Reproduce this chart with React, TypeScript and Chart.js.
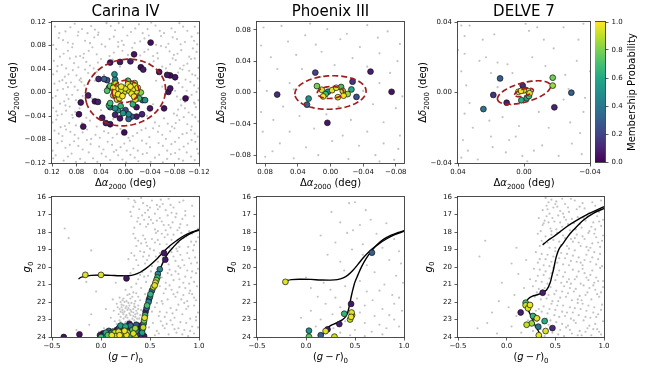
import React, { useEffect, useRef } from 'react';
import { Chart, registerables } from 'chart.js';
Chart.register(...registerables);
Chart.defaults.font.family = '"DejaVu Sans", sans-serif';

// ---------------- DATA ----------------
// Spatial panels: [dRA, dDec] for field stars, [dRA, dDec, membership prob] for members
const CAR_XY_FIELD: number[][] = [
[0.115,0.112],[0.098,0.104],[0.083,0.117],[0.071,0.108],[0.056,0.113],[0.044,0.102],[0.031,0.118],[0.017,0.106],[0.004,0.111],[-0.009,0.103],[-0.022,0.116],[-0.036,0.108],[-0.049,0.114],[-0.063,0.101],[-0.075,0.109],[-0.088,0.118],[-0.101,0.105],[-0.113,0.112],[0.062,0.101],[-0.028,0.101],
[0.109,0.093],[0.094,0.085],[0.078,0.097],[0.066,0.088],[0.051,0.094],[0.039,0.082],[0.026,0.091],[0.012,0.086],[-0.003,0.097],[-0.015,0.084],[-0.031,0.092],[-0.044,0.087],[-0.058,0.096],[-0.07,0.083],[-0.084,0.091],[-0.097,0.086],[-0.108,0.095],[-0.117,0.082],[0.118,0.081],[0.003,0.081],
[0.113,0.074],[0.101,0.066],[0.087,0.077],[0.074,0.062],[0.06,0.071],[0.047,0.065],[0.033,0.078],[0.019,0.068],[-0.011,0.076],[-0.024,0.063],[-0.037,0.073],[-0.052,0.067],[-0.066,0.077],[-0.079,0.064],[-0.091,0.072],[-0.104,0.061],[-0.116,0.069],[0.005,0.071],[0.081,0.061],[-0.058,0.079],
[0.117,0.054],[0.104,0.047],[0.091,0.058],[0.077,0.043],[0.064,0.052],[0.052,0.041],[0.04,0.057],[0.009,0.044],[-0.046,0.053],[-0.06,0.044],[-0.082,0.055],[-0.095,0.046],[-0.107,0.057],[-0.119,0.042],[0.069,0.059],[-0.089,0.041],[0.097,0.041],[-0.073,0.048],
[0.112,0.036],[0.099,0.027],[0.086,0.038],[0.073,0.024],[0.061,0.033],[0.075,0.021],[-0.086,0.034],[-0.098,0.022],[-0.109,0.031],[-0.118,0.024],[0.103,0.021],[-0.093,0.039],[0.066,0.039],[0.047,0.035],
[0.116,0.015],[0.102,0.006],[0.089,0.017],[0.078,0.004],[0.067,0.012],[-0.087,0.016],[-0.1,0.003],[-0.112,0.012],[0.108,0.019],[-0.119,0.007],[0.094,0.009],[-0.093,0.009],
[0.114,-0.006],[0.1,-0.015],[0.087,-0.004],[0.076,-0.018],[-0.084,-0.007],[-0.097,-0.016],[-0.108,-0.004],[-0.119,-0.013],[0.107,-0.019],[0.093,-0.011],[-0.113,-0.019],
[0.118,-0.026],[0.104,-0.037],[0.091,-0.024],[0.082,-0.033],[-0.079,-0.036],[-0.091,-0.022],[-0.103,-0.034],[-0.115,-0.025],[0.097,-0.031],[-0.086,-0.029],[0.111,-0.039],
[0.113,-0.046],[0.099,-0.057],[0.086,-0.043],[0.071,-0.052],[0.058,-0.048],[-0.048,-0.051],[-0.063,-0.044],[-0.076,-0.058],[-0.088,-0.047],[-0.101,-0.054],[-0.114,-0.042],[0.106,-0.059],[-0.069,-0.053],[0.047,-0.058],
[0.116,-0.065],[0.103,-0.074],[0.09,-0.067],[0.077,-0.078],[0.063,-0.063],[0.049,-0.072],[0.035,-0.066],[0.021,-0.077],[0.008,-0.062],[-0.012,-0.074],[-0.026,-0.064],[-0.039,-0.076],[-0.053,-0.067],[-0.066,-0.079],[-0.08,-0.061],[-0.093,-0.071],[-0.107,-0.064],[-0.118,-0.075],[0.056,-0.079],[-0.045,-0.061],
[0.111,-0.086],[0.098,-0.094],[0.084,-0.083],[0.07,-0.097],[0.057,-0.088],[0.043,-0.092],[0.029,-0.084],[0.015,-0.098],[0.002,-0.087],[-0.013,-0.095],[-0.027,-0.082],[-0.04,-0.093],[-0.054,-0.086],[-0.068,-0.099],[-0.081,-0.084],[-0.095,-0.092],[-0.108,-0.081],[-0.117,-0.096],[0.119,-0.099],[-0.002,-0.099],
[0.114,-0.107],[0.101,-0.116],[0.088,-0.104],[0.074,-0.113],[0.06,-0.102],[0.046,-0.118],[0.032,-0.109],[0.019,-0.101],[0.005,-0.114],[-0.008,-0.106],[-0.021,-0.117],[-0.035,-0.103],[-0.048,-0.111],[-0.061,-0.119],[-0.074,-0.105],[-0.087,-0.113],[-0.1,-0.102],[-0.113,-0.115],[0.066,-0.119],[-0.041,-0.118],
[0.05,0.02],[0.035,0.03],[-0.05,0.02],[-0.06,0.01],[0.04,-0.03],[-0.045,-0.02],[0.02,-0.045],[-0.025,0.045],[0.055,-0.01],[-0.035,-0.04],
[0.108,0.101],[0.09,0.111],[0.077,0.103],[0.05,0.107],[0.024,0.113],[0.011,0.118],[-0.016,0.109],[-0.042,0.119],[-0.056,0.105],[-0.081,0.103],[-0.094,0.112],[-0.118,0.101],
[0.102,0.089],[0.086,0.083],[0.058,0.084],[0.045,0.098],[0.019,0.095],[0.006,0.088],[-0.024,0.087],[-0.038,0.097],[-0.05,0.081],[-0.077,0.094],[-0.09,0.082],[-0.112,0.088],
[0.107,0.061],[0.094,0.071],[0.068,0.066],[0.054,0.077],[0.026,0.062],[0.012,0.078],[-0.004,0.064],[-0.031,0.069],[-0.045,0.062],[-0.072,0.07],[-0.085,0.066],[-0.11,0.075],
[0.111,0.045],[0.084,0.05],[0.058,0.046],[0.045,0.051],[0.021,0.056],[-0.039,0.049],[-0.053,0.058],[-0.066,0.041],[-0.077,0.058],[-0.101,0.049],[-0.113,0.058],
[0.118,0.031],[0.093,0.031],[0.08,0.029],[0.055,0.026],[-0.081,0.022],[-0.104,0.037],[-0.114,0.029],
[0.111,0.004],[0.097,0.016],[0.083,0.01],[0.072,0.018],[-0.081,0.003],[-0.106,0.018],[-0.116,0.001],
[0.119,-0.009],[0.096,-0.004],[0.081,-0.013],[0.07,-0.006],[-0.09,-0.012],[-0.103,-0.008],[-0.112,-0.017],
[0.113,-0.032],[0.098,-0.022],[0.087,-0.038],[0.075,-0.027],[-0.084,-0.039],[-0.097,-0.027],[-0.109,-0.038],
[0.119,-0.051],[0.092,-0.052],[0.081,-0.056],[0.064,-0.043],[-0.055,-0.057],[-0.082,-0.052],[-0.095,-0.042],[-0.108,-0.058],[-0.119,-0.049],
[0.109,-0.07],[0.097,-0.063],[0.083,-0.072],[0.07,-0.068],[0.042,-0.077],[0.028,-0.069],[0.014,-0.071],[-0.005,-0.077],[-0.019,-0.069],[-0.033,-0.061],[-0.06,-0.072],[-0.073,-0.066],[-0.087,-0.077],[-0.1,-0.069],[-0.113,-0.07],
[0.104,-0.083],[0.091,-0.089],[0.077,-0.091],[0.063,-0.081],[0.036,-0.097],[0.022,-0.089],[0.008,-0.093],[-0.007,-0.082],[-0.02,-0.099],[-0.034,-0.087],[-0.061,-0.091],[-0.075,-0.088],[-0.088,-0.097],[-0.102,-0.087],[-0.114,-0.084],
[0.118,-0.112],[0.094,-0.109],[0.081,-0.118],[0.053,-0.112],[0.039,-0.104],[0.025,-0.115],[0.012,-0.107],[-0.001,-0.119],[-0.015,-0.111],[-0.028,-0.105],[-0.055,-0.106],[-0.068,-0.113],[-0.081,-0.103],[-0.094,-0.116],[-0.107,-0.109],[-0.119,-0.104]
];
const CAR_XY_MEMBERS: number[][] = [
[-0.041,0.085,0.03],[-0.014,0.065,0.05],[0.025,0.051,0.04],[0.009,0.052,0.06],[-0.008,0.053,0.08],[-0.025,0.043,0.04],[-0.029,0.039,0.07],[-0.055,0.035,0.05],[-0.068,0.03,0.06],[-0.073,0.029,0.03],[-0.081,0.026,0.05],[0.044,0.023,0.1],[-0.073,0.007,0.06],[-0.07,0.001,0.04],[-0.098,-0.01,0.03],[0.073,-0.017,0.05],[0.061,-0.005,0.07],[0.05,-0.015,0.04],[0.045,-0.016,0.08],[0.076,-0.037,0.03],[0.069,-0.058,0.05],[0.038,-0.043,0.06],[0.025,-0.054,0.04],[0.017,-0.038,0.09],[0.009,-0.044,0.05],[0.002,-0.068,0.03],[-0.018,-0.041,0.07],[-0.018,-0.025,0.05],[-0.04,-0.027,0.06],[-0.063,-0.027,0.04],[0.032,-0.052,0.08],[-0.027,-0.037,0.1],
[0.035,0.023,0.3],[0.03,0.021,0.25],[-0.01,-0.041,0.28],[-0.028,-0.013,0.3],[0.0,-0.03,0.22],[-0.005,-0.045,0.32],
[0.018,0.031,0.5],[0.017,0.022,0.45],[-0.032,-0.013,0.5],[0.025,-0.025,0.45],[0.017,-0.027,0.5],[0.012,-0.03,0.48],[0.004,-0.035,0.52],[-0.005,-0.037,0.45],[0.027,0.008,0.55],
[0.025,-0.018,0.68],[0.027,-0.022,0.62],[0.03,0.003,0.72],[0.025,0.011,0.75],[-0.004,0.02,0.7],[-0.022,-0.01,0.7],[-0.012,-0.02,0.65],[0.008,-0.023,0.66],
[0.018,0.015,0.85],[-0.015,0.016,0.85],[0.02,-0.005,0.88],[-0.025,0.0,0.82],
[0.015,0.006,0.97],[0.012,-0.003,0.99],[0.008,0.003,0.95],[0.018,0.0,0.98],[0.01,-0.01,0.96],[0.005,-0.006,0.99],[0.014,-0.012,0.93],[0.02,0.008,0.97],[0.007,0.01,0.98],[0.003,0.0,0.94],[-0.008,0.01,0.99],[-0.012,0.005,0.97],[-0.015,0.012,0.96],[-0.01,-0.002,0.98],[-0.018,0.002,0.95],[-0.014,-0.007,0.99],[-0.006,0.003,0.93],[-0.02,0.008,0.97],[-0.004,0.014,0.96],[-0.016,-0.012,0.94],[0.0,0.007,0.95],[0.016,0.015,0.92]
];
const PHX_XY_FIELD: number[][] = [
[0.082,0.083],[0.06,0.085],[0.031,0.073],[0.004,0.081],[-0.02,0.075],[-0.045,0.086],[-0.07,0.078],[-0.085,0.062],[0.085,0.06],[0.052,0.065],[0.018,0.061],[-0.012,0.068],[-0.036,0.058],[-0.058,0.07],[0.073,0.045],[0.042,0.048],[0.011,0.052],[-0.027,0.044],[-0.06,0.05],[-0.082,0.04],[0.065,0.03],[0.035,0.03],[-0.005,0.035],[-0.045,0.033],[-0.073,0.025],[0.087,0.015],[0.078,0.002],[0.05,0.012],[-0.06,0.012],[-0.088,-0.005],[0.085,-0.025],[0.058,-0.018],[-0.052,-0.015],[-0.08,-0.02],[0.07,-0.035],[0.038,-0.03],[0.005,-0.028],[-0.025,-0.035],[-0.065,-0.038],[0.083,-0.05],[0.05,-0.05],[0.02,-0.046],[-0.015,-0.055],[-0.045,-0.05],[-0.085,-0.055],[0.062,-0.065],[0.03,-0.07],[-0.002,-0.062],[-0.035,-0.068],[-0.065,-0.065],[0.08,-0.082],[0.045,-0.084],[0.015,-0.08],[-0.022,-0.085],[-0.055,-0.08],[-0.078,-0.086],[0.071,-0.075],[-0.083,-0.072],[0.025,0.088],[-0.06,-0.088],[0.012,0.02],[-0.03,0.015],[0.028,-0.012],[-0.01,-0.018],[0.045,0.004],[-0.04,0.002]
];
const PHX_XY_MEMBERS: number[][] = [
[0.0186,0.0254,0.2],[-0.049,0.0267,0.08],[-0.0748,0.0009,0.05],[0.0653,-0.0026,0.12],[0.0038,-0.0387,0.06],[-0.027,0.0138,0.15],[-0.0318,-0.0056,0.25],[-0.0256,0.0039,0.6],[0.0268,-0.0077,0.5],[0.0288,-0.0155,0.3],[0.0166,0.0082,0.8],[0.0108,0.0035,0.95],[0.006,-0.002,0.7],[0.003,0.001,0.5],[-0.002,0.003,0.95],[-0.007,0.006,0.95],[-0.013,0.007,0.7],[-0.015,0.002,0.9],[-0.009,-0.006,0.95],[-0.016,-0.004,0.98],[-0.021,-0.002,0.85],[0.009,-0.005,0.99]
];
const DEL_XY_FIELD: number[][] = [
[0.038,0.038],[0.033,0.038],[-0.001,0.039],[-0.003,0.035],[-0.008,0.037],[-0.036,0.039],[-0.024,0.037],[0.036,0.032],[0.018,0.033],[-0.012,0.03],[-0.033,0.03],[0.036,0.022],[0.027,0.018],[0.023,0.02],[0.016,0.017],[0.01,0.016],[-0.013,0.015],[-0.032,0.018],[0.038,0.012],[0.02,0.011],[0.007,0.011],[-0.005,0.02],[-0.025,0.01],[0.035,0.004],[0.016,0.003],[-0.027,0.002],[-0.037,-0.003],[0.033,-0.006],[0.008,-0.007],[-0.024,-0.004],[0.036,-0.012],[0.013,-0.014],[-0.009,-0.011],[-0.015,-0.02],[-0.036,-0.011],[0.031,-0.02],[0.021,-0.016],[0.003,-0.019],[-0.028,-0.017],[0.037,-0.027],[0.02,-0.025],[0.005,-0.025],[-0.011,-0.03],[-0.029,-0.029],[0.034,-0.033],[0.019,-0.031],[0.011,-0.034],[0.001,-0.036],[-0.006,-0.033],[-0.021,-0.036],[-0.035,-0.035],[0.038,-0.037],[0.028,-0.038],[-0.002,-0.039],[0.009,-0.027],[-0.034,-0.023],[0.025,0.03],[-0.018,0.025],[0.04,0.024],[-0.04,0.012]
];
const DEL_XY_MEMBERS: number[][] = [
[0.0145,0.008,0.3],[0.0186,-0.0014,0.15],[0.0246,-0.0094,0.38],[0.0105,-0.0058,0.08],[0.0008,0.004,0.12],[-0.0174,0.0084,0.78],[-0.0174,0.0039,0.85],[-0.0287,-0.0001,0.3],[-0.0184,-0.0084,0.1],[0.0016,-0.0044,0.62],[-0.0016,-0.0033,0.55],[-0.003,-0.002,0.7],[0.0034,0.0004,0.97],[0.0018,0.0009,0.99],[0.0002,0.0012,0.95],[-0.001,0.0015,0.5],[-0.0034,-0.0004,0.95],[-0.0025,0.0008,0.9]
];

// CMD panels: [(g-r)0, g0] field, [(g-r)0, g0, prob] members
const CAR_CMD_FIELD: number[][] = [
[0.28,16.1],[0.35,16.3],[0.41,16.05],[0.47,16.5],[0.52,16.2],[0.58,16.7],[0.63,16.4],[0.69,16.1],[0.74,16.6],[0.8,16.3],[0.86,16.8],[0.39,16.7],[0.45,16.9],[0.55,16.95],[0.61,16.15],[0.66,16.75],[0.33,16.55],[0.5,16.6],[0.72,16.9],[0.43,16.35],[0.57,16.45],[0.3,16.85],[0.84,16.2],[0.77,16.95],[0.93,16.5],
[0.31,17.1],[0.37,17.4],[0.42,17.05],[0.46,17.7],[0.51,17.3],[0.55,17.85],[0.6,17.2],[0.64,17.6],[0.68,17.05],[0.73,17.45],[0.78,17.9],[0.83,17.25],[0.88,17.6],[0.95,17.1],[0.99,17.8],[0.34,17.75],[0.4,17.55],[0.49,17.15],[0.53,17.5],[0.58,17.95],[0.62,17.4],[0.71,17.75],[0.76,17.15],[0.81,17.55],[0.9,17.95],[0.44,17.3],[0.66,17.9],[0.86,17.05],[-0.37,17.8],[-0.33,18.35],
[0.33,18.1],[0.38,18.5],[0.43,18.2],[0.47,18.8],[0.52,18.4],[0.56,18.05],[0.6,18.7],[0.65,18.3],[0.7,18.9],[0.74,18.15],[0.79,18.6],[0.84,18.35],[0.89,18.85],[0.93,18.1],[0.97,18.55],[0.36,18.8],[0.41,18.65],[0.5,18.95],[0.55,18.6],[0.62,18.1],[0.72,18.45],[0.77,18.95],[0.87,18.25],[0.95,18.75],[0.45,18.4],[0.67,18.7],[0.82,18.05],[0.99,18.3],
[0.31,19.2],[0.36,19.6],[0.4,19.1],[0.45,19.8],[0.49,19.35],[0.54,19.05],[0.58,19.7],[0.63,19.45],[0.72,19.15],[0.76,19.65],[0.81,19.3],[0.85,19.9],[0.9,19.5],[0.94,19.05],[0.98,19.75],[0.38,19.9],[0.43,19.4],[0.52,19.95],[0.6,19.2],[0.69,19.85],[0.74,19.4],[0.79,19.95],[0.88,19.2],[0.96,19.45],[0.28,19.55],[0.47,19.6],[0.83,19.6],[-0.1,19.05],
[0.33,20.1],[0.38,20.7],[0.42,20.3],[0.46,20.85],[0.51,20.25],[0.62,20.6],[0.7,20.15],[0.74,20.75],[0.79,20.4],[0.84,20.9],[0.88,20.2],[0.92,20.6],[0.97,20.35],[0.36,20.95],[0.44,20.55],[0.66,20.9],[0.72,20.45],[0.81,20.05],[0.86,20.55],[0.95,20.85],[0.99,20.1],[0.3,20.35],[0.15,20.9],[0.76,20.25],[0.9,20.95],[0.68,20.35],[-0.15,20.85],
[0.22,21.9],[0.27,21.6],[0.3,21.8],[0.33,21.45],[0.35,21.95],[0.38,21.7],[0.41,21.2],[0.45,21.55],[0.6,21.1],[0.64,21.5],[0.68,21.85],[0.72,21.3],[0.76,21.7],[0.8,21.15],[0.84,21.6],[0.88,21.95],[0.91,21.35],[0.95,21.75],[0.98,21.1],[0.25,21.3],[0.19,21.75],[0.62,21.95],[0.7,21.05],[0.78,21.45],[0.86,21.2],[0.93,21.55],[0.31,21.15],[0.12,21.85],[-0.05,21.4],[0.4,21.9],[0.24,22.0],[0.97,21.9],
[0.16,22.1],[0.19,22.4],[0.21,22.15],[0.23,22.7],[0.25,22.35],[0.27,22.9],[0.29,22.2],[0.31,22.55],[0.33,22.8],[0.35,22.3],[0.37,22.65],[0.39,22.95],[0.41,22.45],[0.2,22.85],[0.24,22.55],[0.28,22.05],[0.3,22.75],[0.34,22.1],[0.36,22.5],[0.22,22.6],[0.26,22.25],[0.32,22.95],[0.18,22.7],[0.38,22.2],[0.27,22.45],[0.29,22.65],[0.33,22.4],[0.23,22.95],[0.21,22.3],[0.35,22.85],[0.13,22.5],[0.1,22.9],[0.55,22.3],[0.59,22.8],[0.63,22.1],[0.67,22.6],[0.71,22.35],[0.75,22.9],[0.79,22.15],[0.83,22.7],[0.87,22.4],[0.91,22.95],[0.95,22.2],[0.99,22.6],[0.05,22.4],[-0.1,22.7],[0.46,22.1],[0.6,22.55],[0.73,22.65],[0.85,22.05],
[0.14,23.1],[0.17,23.4],[0.2,23.15],[0.23,23.6],[0.26,23.3],[0.29,23.05],[0.32,23.5],[0.35,23.2],[0.38,23.7],[0.4,23.35],[0.18,23.75],[0.24,23.9],[0.31,23.85],[0.37,23.95],[0.12,23.55],[0.08,23.8],[0.03,23.5],[-0.02,23.7],[-0.12,23.3],[-0.25,23.6],[0.53,23.2],[0.57,23.65],[0.61,23.1],[0.65,23.5],[0.69,23.85],[0.73,23.3],[0.77,23.75],[0.81,23.15],[0.85,23.6],[0.89,23.95],[0.93,23.4],[0.97,23.05],[0.55,23.9],[0.63,23.35],[0.71,23.05],[0.79,23.5],[0.87,23.2],[0.95,23.8],[0.27,23.1],[0.33,23.65],
[0.2,22.0],[0.23,21.8],[0.26,21.95],[0.29,21.55],[0.32,21.7],[0.36,21.5],[0.17,22.3],[0.2,22.55],[0.23,22.2],[0.26,22.75],[0.28,22.35],[0.31,22.05],[0.33,22.6],[0.35,22.7],[0.38,22.4],[0.4,22.75],[0.22,22.45],[0.25,22.85],[0.3,22.45],[0.34,22.25],[0.37,22.95],[0.19,23.05],[0.22,23.25],[0.25,23.15],[0.28,23.4],[0.31,23.2],[0.34,23.05],[0.37,23.35],[0.16,23.25],
[0.34,16.2],[0.48,16.75],[0.6,16.55],[0.71,16.45],[0.38,17.2],[0.48,17.55],[0.57,17.35],[0.69,17.6],[0.8,17.75],[0.35,18.35],[0.46,18.6],[0.58,18.45],[0.68,18.15],[0.8,18.85],[0.92,18.55],[0.34,19.35],[0.44,19.15],[0.56,19.4],[0.66,19.6],[0.78,19.1],[0.92,19.8],[0.4,20.45],[0.48,20.5],[0.58,20.9],[0.8,20.7],[0.93,20.25],[0.5,21.25],[0.66,21.25],[0.74,21.55],[0.82,21.85],[0.9,21.5],[0.52,22.55],[0.57,22.05],[0.65,22.85],[0.77,22.45],[0.89,22.25],[0.97,22.85],[0.49,23.45],[0.59,23.8],[0.67,23.25],[0.75,23.55],[0.83,23.85],[0.91,23.65],[0.99,23.45]
];
const CAR_CMD_MEMBERS: number[][] = [
[-0.16,20.45,0.95],[0.0,20.45,0.95],[0.26,20.65,0.05],[0.643,19.2,0.05],[0.656,19.58,0.06],[0.6,20.13,0.45],[0.58,20.4,0.45],[0.575,20.6,0.65],[0.565,20.75,0.8],[0.555,20.9,0.95],[0.548,21.05,0.95],[0.535,21.15,0.9],[0.52,21.35,0.3],[0.505,21.55,0.65],[0.5,21.7,0.4],[0.49,21.85,0.2],[0.485,22.0,0.45],[0.47,22.2,0.7],[0.465,22.35,0.25],[0.455,22.55,0.08],[0.45,22.75,0.65],[0.445,22.9,0.95],[0.44,23.05,0.8],[0.435,23.2,0.5],[0.43,23.3,0.05],[0.43,23.45,0.9],[0.42,23.6,0.3],
[0.41,23.35,0.1],[0.38,23.4,0.06],[0.36,23.3,0.25],[0.33,23.45,0.05],[0.3,23.35,0.4],[0.28,23.5,0.08],[0.25,23.4,0.6],[0.22,23.55,0.05],[0.19,23.45,0.35],[0.16,23.6,0.05],[0.12,23.7,0.45],[0.08,23.65,0.3],[0.05,23.75,0.6],[0.02,23.8,0.08],[0.14,23.75,0.9],[0.18,23.7,0.95],[0.21,23.8,0.85],[0.24,23.65,0.97],[0.27,23.75,0.9],[0.3,23.7,0.1],[0.33,23.8,0.95],[0.36,23.65,0.5],[0.39,23.75,0.04],[0.4,23.9,0.1],[0.44,23.95,0.06],[0.11,23.9,0.97],[0.15,23.95,0.92],[0.19,23.9,0.99],[0.23,23.95,0.7],[0.26,23.88,0.96],[0.29,23.95,0.65],[0.32,23.92,0.05],[0.35,23.98,0.9],[0.37,23.85,0.15],[0.07,23.9,0.75],[0.03,23.95,0.55],[-0.01,23.9,0.08],[0.0,24.0,0.7],[-0.22,23.85,0.04],[-0.38,24.0,0.05],[0.26,23.55,0.15],[0.32,23.6,0.7],[0.18,23.52,0.2],[0.1,23.8,0.5],[0.42,23.75,0.55],[0.29,23.25,0.08],[0.35,23.5,0.85],[0.2,23.35,0.55]
];
const PHX_CMD_FIELD: number[][] = [
[0.44,16.35],[0.5,16.3],[0.61,16.75],[0.26,16.85],[0.66,17.3],[0.35,17.45],[0.55,17.6],[0.82,17.5],[0.15,18.2],[0.42,18.05],[0.72,18.1],[0.9,18.4],[0.3,18.6],[0.58,18.7],[0.78,18.9],[0.47,19.0],[0.95,19.1],[0.22,19.3],[0.35,19.7],[0.62,19.9],[0.85,19.6],[0.97,19.8],[0.39,20.2],[0.7,20.3],[0.92,20.5],[0.0,20.6],[0.18,20.9],[0.55,20.8],[0.8,21.0],[0.99,20.9],[0.05,21.2],[0.25,21.3],[0.4,21.1],[0.62,21.4],[0.75,21.35],[0.88,21.6],[0.12,21.7],[0.3,21.75],[0.52,21.8],[0.68,21.9],[0.95,21.75],[0.2,22.1],[0.35,22.3],[0.6,22.2],[0.78,22.4],[0.9,22.1],[0.05,22.5],[0.27,22.7],[0.55,22.6],[0.7,22.8],[0.85,22.75],[0.98,22.5],[-0.05,22.9],[0.15,23.0],[0.4,23.1],[0.6,23.2],[0.75,23.3],[0.9,23.0],[0.1,23.4],[0.28,23.5],[0.5,23.6],[0.67,23.7],[0.82,23.5],[0.95,23.4],[0.2,23.8],[0.45,23.9],[0.6,23.95],[0.78,23.85],[0.35,23.75],[0.58,19.3],[0.48,17.9]
];
const PHX_CMD_MEMBERS: number[][] = [
[-0.21,20.85,0.95],[0.673,19.18,0.3],[0.46,22.11,0.06],[0.39,22.67,0.65],[0.465,22.6,0.95],[0.47,22.75,0.92],[0.46,22.85,0.97],[0.45,23.0,0.9],[0.34,23.26,0.08],[0.22,23.56,0.05],[0.2,23.66,0.95],[0.03,23.64,0.5],[0.15,23.9,0.3],[0.03,23.98,0.75],[0.29,23.98,0.92]
];
const DEL_CMD_FIELD: number[][] = [
[0.4,16.05],[0.43,16.3],[0.46,16.15],[0.48,16.6],[0.51,16.25],[0.55,16.8],[0.6,16.4],[0.66,16.1],[0.72,16.7],[0.78,16.35],[0.85,16.9],[0.91,16.5],[0.97,16.2],[0.37,16.75],[0.44,16.95],[0.52,16.55],[0.58,16.95],[0.7,16.2],[0.8,16.65],[0.95,16.85],[0.41,16.5],[0.63,16.6],
[0.33,17.2],[0.37,17.6],[0.41,17.1],[0.45,17.8],[0.49,17.4],[0.53,17.05],[0.57,17.7],[0.61,17.3],[0.65,17.9],[0.69,17.5],[0.73,17.15],[0.77,17.75],[0.81,17.35],[0.85,17.95],[0.89,17.45],[0.93,17.1],[0.97,17.65],[0.35,17.95],[0.43,17.45],[0.51,17.85],[0.59,17.15],[0.67,17.25],[0.75,17.55],[0.83,17.1],[0.91,17.85],[0.99,17.3],[0.39,17.35],[0.47,17.2],
[0.32,18.1],[0.36,18.5],[0.4,18.25],[0.44,18.9],[0.48,18.45],[0.52,18.05],[0.56,18.75],[0.6,18.35],[0.64,18.95],[0.68,18.55],[0.72,18.15],[0.76,18.8],[0.8,18.4],[0.84,18.05],[0.88,18.65],[0.92,18.3],[0.96,18.85],[0.99,18.2],[0.34,18.8],[0.42,18.6],[0.5,18.9],[0.58,18.2],[0.66,18.4],[0.74,18.6],[0.82,18.85],[0.9,18.1],[0.98,18.5],[-0.22,18.5],[0.1,18.9],
[0.3,19.15],[0.34,19.55],[0.38,19.9],[0.42,19.3],[0.46,19.7],[0.5,19.1],[0.54,19.5],[0.58,19.85],[0.62,19.25],[0.66,19.65],[0.7,19.05],[0.74,19.45],[0.78,19.9],[0.82,19.3],[0.86,19.7],[0.9,19.15],[0.94,19.55],[0.98,19.95],[0.36,19.25],[0.44,19.95],[0.52,19.75],[0.6,19.5],[0.68,19.35],[0.76,19.75],[0.84,19.05],[0.92,19.85],[-0.28,19.4],[0.05,19.8],[0.2,19.6],
[0.28,20.1],[0.32,20.5],[0.36,20.85],[0.4,20.25],[0.44,20.65],[0.48,20.05],[0.52,20.45],[0.56,20.9],[0.6,20.3],[0.64,20.7],[0.68,20.15],[0.72,20.55],[0.76,20.95],[0.8,20.35],[0.84,20.75],[0.88,20.2],[0.92,20.6],[0.96,20.05],[0.99,20.8],[0.34,20.15],[0.42,20.95],[0.5,20.75],[0.58,20.55],[0.66,20.95],[0.74,20.25],[0.82,20.6],[0.9,20.9],[0.12,20.4],[0.24,20.7],[-0.05,20.9],
[0.27,21.1],[0.31,21.45],[0.35,21.85],[0.39,21.2],[0.43,21.6],[0.47,21.95],[0.51,21.35],[0.55,21.75],[0.59,21.1],[0.63,21.5],[0.67,21.9],[0.71,21.25],[0.75,21.65],[0.79,21.05],[0.83,21.45],[0.87,21.85],[0.91,21.3],[0.95,21.7],[0.99,21.15],[0.29,21.7],[0.37,21.35],[0.45,21.15],[0.53,21.95],[0.61,21.7],[0.69,21.4],[0.77,21.9],[0.85,21.2],[0.93,21.55],[0.08,21.6],[0.18,21.2],[-0.08,21.95],
[0.26,22.15],[0.3,22.5],[0.34,22.9],[0.38,22.25],[0.42,22.65],[0.46,22.1],[0.5,22.45],[0.54,22.85],[0.58,22.2],[0.62,22.6],[0.66,22.95],[0.7,22.35],[0.74,22.75],[0.78,22.1],[0.82,22.5],[0.86,22.9],[0.9,22.3],[0.94,22.7],[0.98,22.15],[0.33,22.4],[0.41,22.95],[0.49,22.75],[0.57,22.55],[0.65,22.3],[0.73,22.05],[0.81,22.85],[0.89,22.6],[0.97,22.45],[0.1,22.8],[0.02,22.3],[-0.15,22.6],
[0.22,23.05],[0.27,23.65],[0.31,23.1],[0.35,23.55],[0.39,23.95],[0.43,23.3],[0.47,23.75],[0.51,23.15],[0.55,23.6],[0.59,23.95],[0.63,23.35],[0.67,23.8],[0.71,23.2],[0.75,23.65],[0.79,23.05],[0.83,23.5],[0.87,23.9],[0.91,23.25],[0.95,23.7],[0.99,23.1],[0.45,23.05],[0.53,23.85],[0.61,23.45],[0.69,23.05],[0.77,23.9],[0.85,23.35],[0.93,23.55],[0.05,23.4],[-0.1,23.8],[-0.3,23.5],[0.15,23.75],[-0.2,23.2],
[0.42,16.7],[0.5,16.4],[0.57,16.1],[0.64,16.85],[0.75,16.55],[0.88,16.3],[0.38,17.5],[0.46,17.95],[0.55,17.45],[0.63,17.55],[0.71,17.85],[0.79,17.2],[0.87,17.7],[0.95,17.4],[0.38,18.65],[0.46,18.15],[0.54,18.55],[0.62,18.8],[0.7,18.35],[0.78,18.25],[0.86,18.9],[0.94,18.6],[0.32,19.75],[0.4,19.55],[0.48,19.4],[0.56,19.2],[0.64,19.9],[0.72,19.7],[0.8,19.6],[0.88,19.45],[0.96,19.25],[0.3,20.8],[0.38,20.45],[0.46,20.35],[0.54,20.2],[0.62,20.85],[0.7,20.7],[0.78,20.1],[0.86,20.45],[0.94,20.8],[0.33,21.25],[0.41,21.8],[0.49,21.55],[0.57,21.4],[0.65,21.2],[0.73,21.85],[0.81,21.6],[0.89,21.05],[0.97,21.45],[0.28,22.75],[0.36,22.55],[0.44,22.4],[0.52,22.2],[0.6,22.8],[0.68,22.6],[0.76,22.4],[0.84,22.2],[0.92,22.85],[0.29,23.4],[0.37,23.2],[0.41,23.6],[0.49,23.4],[0.57,23.25],[0.65,23.6],[0.73,23.9],[0.81,23.7],[0.89,23.55],[0.97,23.85]
];
const DEL_CMD_MEMBERS: number[][] = [
[0.37,21.47,0.08],[0.195,22.04,0.7],[0.195,22.19,0.92],[0.22,22.36,0.95],[0.24,22.17,0.97],[0.144,22.6,0.08],[0.27,22.8,0.65],[0.28,22.85,0.45],[0.31,22.93,0.95],[0.39,23.09,0.62],[0.205,23.3,0.9],[0.257,23.22,0.85],[0.325,23.41,0.4],[0.47,23.49,0.12],[0.4,23.66,0.95],[0.33,23.9,0.97]
];

// Isochrone tracks [(g-r)0, g0]
const CAR_ISO_RGB: number[][] = [[0.41,24.0],[0.425,23.5],[0.44,23.0],[0.46,22.5],[0.48,22.0],[0.505,21.5],[0.53,21.05],[0.565,20.6],[0.6,20.15],[0.64,19.65],[0.68,19.25],[0.74,18.85],[0.8,18.5],[0.87,18.22],[0.94,18.02],[1.0,17.9]];
const CAR_ISO_HB: number[][] = [[-0.23,20.68],[-0.2,20.58],[-0.1,20.48],[0.0,20.46],[0.1,20.48],[0.2,20.5],[0.28,20.5],[0.34,20.44],[0.4,20.3],[0.46,20.08],[0.52,19.8],[0.58,19.48],[0.64,19.12],[0.7,18.8],[0.77,18.5],[0.85,18.2],[0.93,18.0],[1.0,17.86]];
const PHX_ISO_RGB: number[][] = [[0.16,24.0],[0.2,23.55],[0.25,23.35],[0.31,23.2],[0.37,23.02],[0.41,22.8],[0.435,22.4],[0.45,22.0],[0.465,21.6],[0.48,21.25],[0.5,20.85],[0.53,20.45],[0.57,19.95],[0.61,19.55],[0.66,19.15],[0.72,18.75],[0.79,18.42],[0.87,18.18],[0.94,18.03],[1.0,17.93]];
const PHX_ISO_HB: number[][] = [[-0.22,20.82],[-0.15,20.72],[-0.05,20.7],[0.05,20.71],[0.15,20.74],[0.25,20.75],[0.32,20.72],[0.38,20.62],[0.43,20.45],[0.48,20.18],[0.53,19.85],[0.58,19.5],[0.63,19.2],[0.68,18.95],[0.75,18.65],[0.82,18.4],[0.9,18.17],[1.0,17.96]];
const DEL_ISO_RGB: number[][] = [[0.36,24.0],[0.32,23.6],[0.28,23.2],[0.25,22.8],[0.22,22.45],[0.2,22.2],[0.2,22.0],[0.225,21.8],[0.26,21.68],[0.34,21.54],[0.41,21.31],[0.445,20.93],[0.465,20.5],[0.48,20.17],[0.51,19.41],[0.54,18.95],[0.58,18.65],[0.63,18.25],[0.685,17.89],[0.79,17.31],[0.89,16.93],[1.0,16.65]];
const DEL_ISO_AGB: number[][] = [[0.37,18.74],[0.42,18.5],[0.48,18.27],[0.55,17.98],[0.616,17.7],[0.685,17.45],[0.753,17.22],[0.82,17.02],[0.89,16.84],[1.0,16.55]];

// Half-light ellipses: centre, semi-axes (deg), angle (deg, data frame)
const CAR_ELLIPSES = [
  { cx: 0.0, cy: 0.0, a: 0.066, b: 0.056, ang: -15 },
  { cx: 0.0, cy: 0.002, a: 0.022, b: 0.0187, ang: -15 },
];
const PHX_ELLIPSES = [
  { cx: 0.0, cy: 0.0, a: 0.0436, b: 0.0213, ang: -3 },
  { cx: 0.0, cy: 0.0, a: 0.0162, b: 0.0076, ang: -3 },
];
const DEL_ELLIPSES = [
  { cx: 0.0, cy: 0.0, a: 0.0165, b: 0.0055, ang: -14 },
  { cx: 0.0, cy: 0.0, a: 0.0058, b: 0.002, ang: -14 },
];

const TICKS_CAR = [-0.12, -0.08, -0.04, 0, 0.04, 0.08, 0.12];
const TICKS_PHX = [-0.08, -0.04, 0, 0.04, 0.08];
const TICKS_DEL = [-0.04, 0, 0.04];
const TICKS_COLOR = [-0.5, 0, 0.5, 1.0];
const TICKS_MAG = [16, 17, 18, 19, 20, 21, 22, 23, 24];
const TICKS_CBAR = [0, 0.2, 0.4, 0.6, 0.8, 1.0];

const VIRIDIS = ['#440154', '#482475', '#414487', '#355f8d', '#2a788e', '#21918c', '#22a884', '#44bf70', '#7ad151', '#bddf26', '#fde725'];

// ---------------- HELPERS ----------------
function hexToRgb(h: string) {
  return [parseInt(h.slice(1, 3), 16), parseInt(h.slice(3, 5), 16), parseInt(h.slice(5, 7), 16)];
}
function viridis(p: number) {
  const t = Math.min(1, Math.max(0, p)) * 10;
  const i = Math.min(9, Math.floor(t));
  const f = t - i;
  const a = hexToRgb(VIRIDIS[i]);
  const b = hexToRgb(VIRIDIS[i + 1]);
  const c = a.map((v, k) => Math.round(v + (b[k] - v) * f));
  return `rgb(${c[0]},${c[1]},${c[2]})`;
}
const minus = (s: string) => s.replace('-', '\u2212');
const fmt2 = (v: number) => (Math.abs(v) < 1e-9 ? '0.00' : minus(v.toFixed(2)));
const fmt1 = (v: number) => (Math.abs(v) < 1e-9 ? '0.0' : minus(v.toFixed(1)));
const fmt0 = (v: number) => String(Math.round(v));

type Seg = { t: string; it?: boolean; sub?: boolean };
const LBL_RA: Seg[] = [{ t: '\u0394' }, { t: '\u03b1', it: true }, { t: '2000', sub: true }, { t: ' (deg)' }];
const LBL_DEC: Seg[] = [{ t: '\u0394' }, { t: '\u03b4', it: true }, { t: '2000', sub: true }, { t: ' (deg)' }];
const LBL_COLOR: Seg[] = [{ t: '(' }, { t: 'g', it: true }, { t: '\u2009\u2212\u2009' }, { t: 'r', it: true }, { t: ')' }, { t: '0', sub: true }];
const LBL_MAG: Seg[] = [{ t: 'g', it: true }, { t: '0', sub: true }];

function drawRich(ctx: CanvasRenderingContext2D, segs: Seg[], cx: number, cy: number, size: number, vertical: boolean) {
  ctx.save();
  ctx.translate(cx, cy);
  if (vertical) ctx.rotate(-Math.PI / 2);
  const fam = '"DejaVu Sans", sans-serif';
  const fontOf = (s: Seg) => `${s.it ? 'italic ' : ''}${s.sub ? size * 0.7 : size}px ${fam}`;
  let w = 0;
  const ws = segs.map((s) => {
    ctx.font = fontOf(s);
    const m = ctx.measureText(s.t).width;
    w += m;
    return m;
  });
  let x = -w / 2;
  ctx.fillStyle = '#000';
  ctx.textAlign = 'left';
  ctx.textBaseline = 'alphabetic';
  segs.forEach((s, i) => {
    ctx.font = fontOf(s);
    ctx.fillText(s.t, x, s.sub ? size * 0.25 : 0);
    x += ws[i];
  });
  ctx.restore();
}

function ellipsePts(e: { cx: number; cy: number; a: number; b: number; ang: number }) {
  const pts: { x: number; y: number }[] = [];
  const phi = (e.ang * Math.PI) / 180;
  for (let k = 0; k <= 120; k++) {
    const t = (k / 120) * 2 * Math.PI;
    const u = e.a * Math.cos(t);
    const v = e.b * Math.sin(t);
    pts.push({ x: e.cx + u * Math.cos(phi) - v * Math.sin(phi), y: e.cy + u * Math.sin(phi) + v * Math.cos(phi) });
  }
  return pts;
}

const fieldDs = (pts: number[][]) => ({
  data: pts.map(([x, y]) => ({ x, y })),
  pointRadius: 1.1,
  pointBackgroundColor: '#c3c3c3',
  backgroundColor: '#c3c3c3',
  pointBorderWidth: 0,
  borderWidth: 0,
  showLine: false,
  order: 4,
  clip: 0,
});
const memberDs = (pts: number[][]) => {
  const s = [...pts].sort((a, b) => a[2] - b[2]);
  return {
    data: s.map(([x, y]) => ({ x, y })),
    pointRadius: 2.9,
    pointBackgroundColor: s.map((p) => viridis(p[2])),
    pointBorderColor: '#111',
    pointBorderWidth: 0.7,
    showLine: false,
    order: 2,
    clip: 0,
  };
};
const curveDs = (pts: number[][]) => ({
  data: pts.map(([x, y]) => ({ x, y })),
  showLine: true,
  pointRadius: 0,
  borderColor: '#000',
  borderWidth: 1.4,
  tension: 0.35,
  fill: false,
  order: 3,
  clip: 0,
});
const ellipseDs = (e: any) => ({
  data: ellipsePts(e),
  showLine: true,
  pointRadius: 0,
  borderColor: '#a11e1e',
  borderWidth: 1.7,
  borderDash: [6, 3],
  tension: 0,
  fill: false,
  order: 1,
  clip: 0,
});

interface AxisCfg { min: number; max: number; reverse: boolean; ticks: number[]; fmt: (v: number) => string }
interface PanelCfg {
  key: string;
  plot: { x: number; y: number; w: number; h: number };
  T: number; B: number; L: number; R: number;
  title?: string;
  x: AxisCfg; y: AxisCfg;
  xLabel: Seg[]; yLabel: Seg[]; yLabelDist: number;
  datasets: any[];
}

const TOP_Y = 22, TOP_H = 141, BOT_Y = 197, BOT_H = 140;

const PANELS: PanelCfg[] = [
  {
    key: 'car-xy', plot: { x: 52, y: TOP_Y, w: 147, h: TOP_H }, T: 22, B: 32, L: 48, R: 14, title: 'Carina IV',
    x: { min: -0.12, max: 0.12, reverse: true, ticks: TICKS_CAR, fmt: fmt2 },
    y: { min: -0.12, max: 0.12, reverse: false, ticks: TICKS_CAR, fmt: fmt2 },
    xLabel: LBL_RA, yLabel: LBL_DEC, yLabelDist: 36,
    datasets: [fieldDs(CAR_XY_FIELD), memberDs(CAR_XY_MEMBERS), ...CAR_ELLIPSES.map(ellipseDs)],
  },
  {
    key: 'phx-xy', plot: { x: 257, y: TOP_Y, w: 147, h: TOP_H }, T: 22, B: 32, L: 48, R: 14, title: 'Phoenix III',
    x: { min: -0.09, max: 0.09, reverse: true, ticks: TICKS_PHX, fmt: fmt2 },
    y: { min: -0.09, max: 0.09, reverse: false, ticks: TICKS_PHX, fmt: fmt2 },
    xLabel: LBL_RA, yLabel: LBL_DEC, yLabelDist: 33.5,
    datasets: [fieldDs(PHX_XY_FIELD), memberDs(PHX_XY_MEMBERS), ...PHX_ELLIPSES.map(ellipseDs)],
  },
  {
    key: 'del-xy', plot: { x: 458, y: TOP_Y, w: 132, h: TOP_H }, T: 22, B: 32, L: 48, R: 14, title: 'DELVE 7',
    x: { min: -0.04, max: 0.04, reverse: true, ticks: TICKS_DEL, fmt: fmt2 },
    y: { min: -0.04, max: 0.04, reverse: false, ticks: TICKS_DEL, fmt: fmt2 },
    xLabel: LBL_RA, yLabel: LBL_DEC, yLabelDist: 32,
    datasets: [fieldDs(DEL_XY_FIELD), memberDs(DEL_XY_MEMBERS), ...DEL_ELLIPSES.map(ellipseDs)],
  },
  {
    key: 'car-cmd', plot: { x: 52, y: BOT_Y, w: 147, h: BOT_H }, T: 8, B: 32, L: 48, R: 14,
    x: { min: -0.5, max: 1.0, reverse: false, ticks: TICKS_COLOR, fmt: fmt1 },
    y: { min: 16, max: 24, reverse: true, ticks: TICKS_MAG, fmt: fmt0 },
    xLabel: LBL_COLOR, yLabel: LBL_MAG, yLabelDist: 22,
    datasets: [fieldDs(CAR_CMD_FIELD), memberDs(CAR_CMD_MEMBERS), curveDs(CAR_ISO_RGB), curveDs(CAR_ISO_HB)],
  },
  {
    key: 'phx-cmd', plot: { x: 257, y: BOT_Y, w: 147, h: BOT_H }, T: 8, B: 32, L: 48, R: 14,
    x: { min: -0.5, max: 1.0, reverse: false, ticks: TICKS_COLOR, fmt: fmt1 },
    y: { min: 16, max: 24, reverse: true, ticks: TICKS_MAG, fmt: fmt0 },
    xLabel: LBL_COLOR, yLabel: LBL_MAG, yLabelDist: 24,
    datasets: [fieldDs(PHX_CMD_FIELD), memberDs(PHX_CMD_MEMBERS), curveDs(PHX_ISO_RGB), curveDs(PHX_ISO_HB)],
  },
  {
    key: 'del-cmd', plot: { x: 458, y: BOT_Y, w: 146, h: BOT_H }, T: 8, B: 32, L: 48, R: 12,
    x: { min: -0.5, max: 1.0, reverse: false, ticks: TICKS_COLOR, fmt: fmt1 },
    y: { min: 16, max: 24, reverse: true, ticks: TICKS_MAG, fmt: fmt0 },
    xLabel: LBL_COLOR, yLabel: LBL_MAG, yLabelDist: 26.5,
    datasets: [fieldDs(DEL_CMD_FIELD), memberDs(DEL_CMD_MEMBERS), curveDs(DEL_ISO_RGB), curveDs(DEL_ISO_AGB)],
  },
];

const TICK_FONT = { size: 7, family: '"DejaVu Sans", sans-serif' };

function axisOpts(a: AxisCfg, horizontal: boolean, fixed: number) {
  return {
    type: 'linear',
    min: a.min,
    max: a.max,
    reverse: a.reverse,
    afterBuildTicks: (scale: any) => {
      scale.ticks = a.ticks.map((v) => ({ value: v }));
    },
    afterFit: (scale: any) => {
      if (horizontal) scale.height = fixed;
      else scale.width = fixed;
    },
    ticks: {
      autoSkip: false,
      maxRotation: 0,
      minRotation: 0,
      font: TICK_FONT,
      color: '#111',
      padding: horizontal ? 1 : 2.5,
      callback: (v: any) => a.fmt(Number(v)),
    },
    grid: {
      drawOnChartArea: false,
      drawTicks: true,
      tickLength: 3.5,
      tickColor: '#333',
      tickWidth: 0.8,
    },
    border: { display: false },
  };
}

function Panel({ cfg }: { cfg: PanelCfg }) {
  const ref = useRef<HTMLCanvasElement | null>(null);
  const W = cfg.plot.w + cfg.L + cfg.R;
  const H = cfg.plot.h + cfg.T + cfg.B;
  useEffect(() => {
    if (!ref.current) return;
    const frame = {
      id: 'frame-' + cfg.key,
      afterDraw(chart: any) {
        const { ctx, chartArea: ca } = chart;
        ctx.save();
        ctx.strokeStyle = '#3a3a3a';
        ctx.lineWidth = 0.9;
        ctx.strokeRect(ca.left - 0.5, ca.top - 0.5, ca.right - ca.left + 1, ca.bottom - ca.top + 1);
        ctx.restore();
        drawRich(ctx, cfg.xLabel, (ca.left + ca.right) / 2, ca.bottom + 23, 10, false);
        drawRich(ctx, cfg.yLabel, ca.left - cfg.yLabelDist, (ca.top + ca.bottom) / 2, 10, true);
      },
    };
    const chart = new Chart(ref.current, {
      type: 'scatter',
      data: { datasets: cfg.datasets },
      options: {
        animation: false,
        responsive: false,
        devicePixelRatio: 1,
        events: [],
        layout: { padding: { left: 0, right: cfg.R, top: cfg.title ? 0 : cfg.T, bottom: 0 } },
        plugins: {
          legend: { display: false },
          tooltip: { enabled: false },
          title: cfg.title
            ? {
                display: true,
                text: cfg.title,
                fullSize: false,
                color: '#000',
                font: { size: 15, weight: 'normal', family: '"DejaVu Sans", sans-serif', lineHeight: 1.2 },
                padding: { top: 3, bottom: 1 },
              }
            : { display: false },
        },
        scales: {
          x: axisOpts(cfg.x, true, cfg.B),
          y: axisOpts(cfg.y, false, cfg.L),
        },
      } as any,
      plugins: [frame],
    });
    return () => chart.destroy();
  }, []);
  return (
    <canvas
      ref={ref}
      width={W}
      height={H}
      style={{ position: 'absolute', left: cfg.plot.x - cfg.L, top: cfg.plot.y - cfg.T, width: W, height: H }}
    />
  );
}

function Colorbar() {
  const ref = useRef<HTMLCanvasElement | null>(null);
  const plot = { x: 595, y: TOP_Y, w: 10, h: 140 };
  const RW = 56, PAD = 8;
  const W = plot.w + RW;
  const H = plot.h + 2 * PAD;
  useEffect(() => {
    if (!ref.current) return;
    const grad = {
      id: 'cbar',
      beforeDatasetsDraw(chart: any) {
        const { ctx, chartArea: ca } = chart;
        const g = ctx.createLinearGradient(0, ca.bottom, 0, ca.top);
        VIRIDIS.forEach((c, i) => g.addColorStop(i / 10, c));
        ctx.save();
        ctx.fillStyle = g;
        ctx.fillRect(ca.left, ca.top, ca.right - ca.left, ca.bottom - ca.top);
        ctx.restore();
      },
      afterDraw(chart: any) {
        const { ctx, chartArea: ca } = chart;
        ctx.save();
        ctx.strokeStyle = '#3a3a3a';
        ctx.lineWidth = 0.9;
        ctx.strokeRect(ca.left - 0.5, ca.top - 0.5, ca.right - ca.left + 1, ca.bottom - ca.top + 1);
        ctx.restore();
        drawRich(ctx, [{ t: 'Membership Probability' }], ca.right + 30, (ca.top + ca.bottom) / 2, 10, true);
      },
    };
    const chart = new Chart(ref.current, {
      type: 'scatter',
      data: { datasets: [{ data: [] }] },
      options: {
        animation: false,
        responsive: false,
        devicePixelRatio: 1,
        events: [],
        layout: { padding: { left: 0, right: 0, top: PAD, bottom: PAD } },
        plugins: { legend: { display: false }, tooltip: { enabled: false } },
        scales: {
          x: { type: 'linear', display: false, min: 0, max: 1 },
          y: {
            type: 'linear',
            position: 'right',
            min: 0,
            max: 1,
            afterBuildTicks: (scale: any) => {
              scale.ticks = TICKS_CBAR.map((v) => ({ value: v }));
            },
            afterFit: (scale: any) => {
              scale.width = RW;
            },
            ticks: { font: TICK_FONT, color: '#111', padding: 3, callback: (v: any) => fmt1(Number(v)) },
            grid: { drawOnChartArea: false, drawTicks: true, tickLength: 3.5, tickColor: '#333', tickWidth: 0.8 },
            border: { display: false },
          },
        },
      } as any,
      plugins: [grad],
    });
    return () => chart.destroy();
  }, []);
  return (
    <canvas
      ref={ref}
      width={W}
      height={H}
      style={{ position: 'absolute', left: plot.x, top: plot.y - PAD, width: W, height: H }}
    />
  );
}

export default function App() {
  return (
    <div style={{ position: 'fixed', left: 0, top: 0, width: 651, height: 369, overflow: 'hidden', background: '#fff' }}>
      {PANELS.map((p) => (
        <Panel key={p.key} cfg={p} />
      ))}
      <Colorbar />
    </div>
  );
}
